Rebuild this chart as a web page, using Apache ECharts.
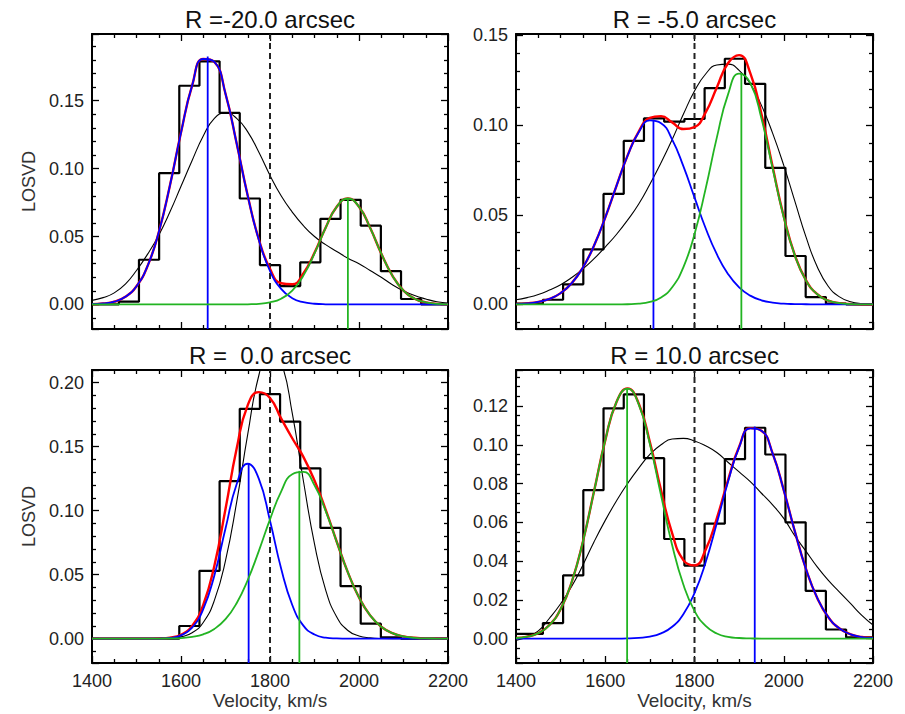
<!DOCTYPE html>
<html>
<head>
<meta charset="utf-8">
<title>LOSVD fits</title>
<script src="https://cdn.jsdelivr.net/npm/echarts@6.0.0/dist/echarts.min.js"></script>
<style>
html,body{margin:0;padding:0;background:#ffffff;}
#chart{width:905px;height:714px;}
</style>
</head>
<body>
<div id="chart"></div>
<script>
// ---------------- data ----------------
const panelTitles = ['R =-20.0 arcsec', 'R = -5.0 arcsec', 'R = \u00a00.0 arcsec', 'R = 10.0 arcsec'];
const xAxisTitle = 'Velocity, km/s';
const yAxisTitle = 'LOSVD';
const xTickLabels = [1400, 1600, 1800, 2000, 2200];

// histogram bins (centres, km/s) and width
const binCenters = [1437.6, 1482.9, 1528.2, 1573.5, 1618.8, 1664.1, 1709.4, 1754.7, 1800.0, 1845.3, 1890.6, 1935.9, 1981.2, 2026.5, 2071.8, 2117.1, 2162.4];
const binWidth = 45.3;

const histR_m20 = [0, 0.0020, 0.0329, 0.0966, 0.1610, 0.1790, 0.1410, 0.0780, 0.0290, 0.0135, 0.0310, 0.0630, 0.0770, 0.0580, 0.0245, 0.0040, 0];
const histR_m5  = [0.0004, 0.0026, 0.0112, 0.0307, 0.0616, 0.0912, 0.1037, 0.1019, 0.1034, 0.1206, 0.1370, 0.1230, 0.0762, 0.0270, 0.0041, 0.0004, 0];
const histR_0   = [0, 0, 0, 0, 0.0099, 0.0530, 0.1230, 0.1795, 0.1910, 0.1695, 0.1330, 0.0865, 0.0410, 0.0117, 0.0010, 0, 0];
const histR_p10 = [0.0024, 0.0080, 0.0326, 0.0766, 0.1188, 0.1260, 0.0931, 0.0514, 0.0377, 0.0593, 0.0926, 0.1088, 0.0950, 0.0600, 0.0246, 0.0047, 0.0006];

// velocity sampling of the fitted curves (km/s)
const velocityGrid = [1400,1425,1450,1475,1500,1525,1550,1575,1600,1625,1650,1675,1700,1725,1750,1775,1800,1825,1850,1875,1900,1925,1950,1975,2000,2025,2050,2075,2100,2125,2150,2175,2200];

// R = -20.0
const redR_m20   = [0.0002,0.0007,0.0020,0.0056,0.0134,0.0284,0.0531,0.0874,0.1265,0.1611,0.1807,0.1785,0.1551,0.1187,0.0800,0.0478,0.0262,0.0156,0.0148,0.0228,0.0380,0.0565,0.0719,0.0780,0.0719,0.0564,0.0375,0.0212,0.0102,0.0042,0.0015,0.0004,0.0001];
const blueR_m20  = [0.0002,0.0007,0.0020,0.0056,0.0134,0.0284,0.0531,0.0874,0.1265,0.1611,0.1807,0.1785,0.1551,0.1187,0.0799,0.0474,0.0247,0.0114,0.0046,0.0016,0.0005,0.0001,0,0,0,0,0,0,0,0,0,0,0];
const greenR_m20 = [0,0,0,0,0,0,0,0,0,0,0,0,0,0,0.0001,0.0004,0.0015,0.0042,0.0102,0.0212,0.0375,0.0564,0.0719,0.0780,0.0719,0.0564,0.0375,0.0212,0.0102,0.0042,0.0015,0.0004,0.0001];
const blackR_m20 = [0.0030,0.0050,0.0085,0.0150,0.0250,0.0370,0.0510,0.0680,0.0870,0.1060,0.1240,0.1370,0.1410,0.1370,0.1270,0.1120,0.0950,0.0800,0.0680,0.0580,0.0500,0.0440,0.0390,0.0340,0.0300,0.0250,0.0200,0.0145,0.0100,0.0065,0.0040,0.0020,0.0010];

// R = -5.0
const redR_m5   = [0.0002,0.0006,0.0014,0.0031,0.0063,0.0119,0.0206,0.0329,0.0485,0.0660,0.0830,0.0964,0.1040,0.1050,0.1015,0.0978,0.0989,0.1071,0.1210,0.1345,0.1390,0.1290,0.1062,0.0769,0.0490,0.0274,0.0134,0.0057,0.0021,0.0007,0.0002,0,0];
const blueR_m5  = [0.0002,0.0006,0.0014,0.0031,0.0063,0.0119,0.0206,0.0329,0.0485,0.0660,0.0829,0.0960,0.1026,0.1011,0.0919,0.0771,0.0597,0.0425,0.0280,0.0170,0.0095,0.0049,0.0023,0.0010,0.0004,0.0002,0.0001,0,0,0,0,0,0];
const greenR_m5 = [0,0,0,0,0,0,0,0,0,0,0.0001,0.0004,0.0014,0.0039,0.0096,0.0207,0.0392,0.0646,0.0930,0.1170,0.1287,0.1235,0.1036,0.0759,0.0486,0.0272,0.0133,0.0057,0.0021,0.0007,0.0002,0,0];
const blackR_m5 = [0.0026,0.0038,0.0055,0.0080,0.0110,0.0150,0.0198,0.0255,0.0320,0.0390,0.0470,0.0560,0.0670,0.0790,0.0920,0.1060,0.1190,0.1285,0.1335,0.1340,0.1305,0.1230,0.1110,0.0955,0.0775,0.0575,0.0375,0.0210,0.0100,0.0042,0.0015,0.0005,0.0002];

// R = 0.0
const redR_0   = [0,0,0,0,0,0,0.0002,0.0008,0.0031,0.0100,0.0264,0.0570,0.1012,0.1483,0.1824,0.1925,0.1880,0.1720,0.1565,0.1420,0.1235,0.1008,0.0757,0.0518,0.0322,0.0182,0.0093,0.0043,0.0018,0.0007,0.0002,0.0001,0];
const blueR_0  = [0,0,0,0,0,0,0.0001,0.0006,0.0026,0.0086,0.0230,0.0494,0.0860,0.1206,0.1366,0.1248,0.0921,0.0548,0.0263,0.0102,0.0032,0.0008,0.0002,0,0,0,0,0,0,0,0,0,0];
const greenR_0 = [0,0,0,0,0,0,0.0001,0.0002,0.0005,0.0014,0.0034,0.0076,0.0152,0.0277,0.0458,0.0686,0.0932,0.1149,0.1284,0.1302,0.1197,0.0998,0.0755,0.0518,0.0322,0.0182,0.0093,0.0043,0.0018,0.0007,0.0002,0.0001,0];
const blackR_0 = [0,0,0,0,0,0,0.0001,0.0004,0.0014,0.0046,0.0126,0.0299,0.0609,0.1064,0.1597,0.2057,0.2276,0.2161,0.1761,0.1233,0.0740,0.0381,0.0169,0.0064,0.0021,0.0006,0.0001,0,0,0,0,0,0];

// R = 10.0
const redR_p10   = [0.0003,0.0010,0.0028,0.0070,0.0152,0.0293,0.0501,0.0761,0.1023,0.1220,0.1291,0.1213,0.1014,0.0766,0.0543,0.0405,0.0378,0.0459,0.0621,0.0817,0.0990,0.1086,0.1073,0.0956,0.0766,0.0552,0.0358,0.0210,0.0110,0.0052,0.0022,0.0008,0.0003];
const blueR_p10  = [0,0,0,0,0,0,0,0,0,0,0.0001,0.0004,0.0010,0.0027,0.0061,0.0126,0.0235,0.0394,0.0595,0.0808,0.0987,0.1085,0.1073,0.0956,0.0766,0.0552,0.0358,0.0210,0.0110,0.0052,0.0022,0.0008,0.0003];
const greenR_p10 = [0.0003,0.0010,0.0028,0.0070,0.0152,0.0293,0.0501,0.0761,0.1023,0.1220,0.1290,0.1209,0.1004,0.0739,0.0482,0.0279,0.0143,0.0065,0.0026,0.0009,0.0003,0.0001,0,0,0,0,0,0,0,0,0,0,0];
const blackR_p10 = [-0.0010,0.0010,0.0040,0.0105,0.0180,0.0270,0.0380,0.0500,0.0610,0.0710,0.0800,0.0880,0.0950,0.1000,0.1030,0.1033,0.1020,0.0995,0.0960,0.0910,0.0860,0.0810,0.0750,0.0690,0.0620,0.0530,0.0450,0.0370,0.0300,0.0240,0.0180,0.0120,0.0070];

// component centres and peak heights (vertical marker lines)
const blueCenters  = [1660, 1708, 1752, 1935];
const bluePeaks    = [0.1826, 0.1030, 0.1367, 0.1094];
const greenCenters = [1975, 1905, 1866, 1649];
const greenPeaks   = [0.0780, 0.1290, 0.1310, 0.1290];
const systemicVelocity = [1800];

// axis ranges
const velocityRange = [1400, 2200];
const yMins = [-0.0181, -0.0137, -0.0190, -0.0126];
const yMaxs = [0.1991, 0.1508, 0.2098, 0.1386];
const yTickSteps = [0.05, 0.05, 0.05, 0.02];

// ---------------- layout & style ----------------
const FONT = '"Liberation Sans", Arial, Helvetica, sans-serif';
const gridBoxes = [
  {left: 92,  top: 34,  width: 356, height: 295},
  {left: 516, top: 34,  width: 357, height: 295},
  {left: 92,  top: 370, width: 356, height: 293},
  {left: 516, top: 370, width: 357, height: 293}
];
const ySplitNumbers = [4, 3, 4, 7];
const yMinorSplits = [5, 5, 5, 4];

const panels = [
  {hist: histR_m20, red: redR_m20, blue: blueR_m20, green: greenR_m20, black: blackR_m20},
  {hist: histR_m5,  red: redR_m5,  blue: blueR_m5,  green: greenR_m5,  black: blackR_m5},
  {hist: histR_0,   red: redR_0,   blue: blueR_0,   green: greenR_0,   black: blackR_0},
  {hist: histR_p10, red: redR_p10, blue: blueR_p10, green: greenR_p10, black: blackR_p10}
];

const COL_BLUE = '#0000ff', COL_GREEN = '#22b422', COL_RED = '#ff0000', COL_BLACK = '#000000';

function histData(vals) {
  const d = [[velocityRange[0], vals[0]]];
  binCenters.forEach((c, i) => d.push([c - binWidth / 2, vals[i]]));
  d.push([velocityRange[1], vals[vals.length - 1]]);
  return d;
}
function curveData(vals) {
  return velocityGrid.map((v, i) => [v, vals[i]]);
}

const tickLine = {color: '#000', width: 1.3};
function xAxisDef(gi, position, showLabels) {
  return {
    type: 'value', gridIndex: gi, position: position,
    min: velocityRange[0], max: velocityRange[1], interval: 200,
    axisLine: {show: true, onZero: false, lineStyle: {color: '#000', width: 2}},
    axisTick: {show: true, inside: true, length: 7, lineStyle: tickLine},
    minorTick: {show: true, splitNumber: 4, length: 4, lineStyle: tickLine},
    splitLine: {show: false}, minorSplitLine: {show: false},
    axisLabel: {show: showLabels, margin: 9, fontSize: 18, fontFamily: FONT, color: '#222',
      formatter: v => (xTickLabels.indexOf(Math.round(v)) >= 0 ? String(Math.round(v)) : '')},
    silent: true
  };
}
function yAxisDef(gi, position, showLabels) {
  const step = yTickSteps[gi];
  return {
    type: 'value', gridIndex: gi, position: position,
    min: yMins[gi], max: yMaxs[gi], splitNumber: ySplitNumbers[gi],
    axisLine: {show: true, onZero: false, lineStyle: {color: '#000', width: 2}},
    axisTick: {show: true, inside: true, length: 7, lineStyle: tickLine},
    minorTick: {show: true, splitNumber: yMinorSplits[gi], length: 4, lineStyle: tickLine},
    splitLine: {show: false}, minorSplitLine: {show: false},
    axisLabel: {show: showLabels, margin: 8, fontSize: 18, fontFamily: FONT, color: '#222',
      showMinLabel: true, showMaxLabel: true,
      formatter: v => {
        const k = Math.round(v / step);
        if (Math.abs(v - k * step) > 1e-6 || k < 0) return '';
        return (k * step).toFixed(2);
      }},
    silent: true
  };
}

const xAxes = [], yAxes = [], series = [];
panels.forEach((p, i) => {
  xAxes.push(xAxisDef(i, 'bottom', i >= 2));
  xAxes.push(xAxisDef(i, 'top', false));
  yAxes.push(yAxisDef(i, 'left', true));
  yAxes.push(yAxisDef(i, 'right', false));
  const xi = 2 * i, yi = 2 * i;
  const base = {type: 'line', xAxisIndex: xi, yAxisIndex: yi, symbol: 'none', silent: true, clip: true, animation: false};
  series.push(Object.assign({}, base, {name: 'hist' + i, step: 'end', data: histData(p.hist), z: 3,
    lineStyle: {color: COL_BLACK, width: 2.2}}));
  series.push(Object.assign({}, base, {name: 'single' + i, smooth: 0.5, data: curveData(p.black), z: 4,
    lineStyle: {color: COL_BLACK, width: 1.1}}));
  series.push(Object.assign({}, base, {name: 'total' + i, smooth: 0.5, data: curveData(p.red), z: 5,
    lineStyle: {color: COL_RED, width: 2.4}}));
  series.push(Object.assign({}, base, {name: 'blue' + i, smooth: 0.5, data: curveData(p.blue), z: 6,
    lineStyle: {color: COL_BLUE, width: 1.8}}));
  series.push(Object.assign({}, base, {name: 'green' + i, smooth: 0.5, data: curveData(p.green), z: 7,
    lineStyle: {color: COL_GREEN, width: 1.8}}));
  series.push(Object.assign({}, base, {name: 'blueV' + i, z: 6,
    data: [[blueCenters[i], yMins[i]], [blueCenters[i], bluePeaks[i]]],
    lineStyle: {color: COL_BLUE, width: 1.8}}));
  series.push(Object.assign({}, base, {name: 'greenV' + i, z: 7,
    data: [[greenCenters[i], yMins[i]], [greenCenters[i], greenPeaks[i]]],
    lineStyle: {color: COL_GREEN, width: 1.8}}));
  series.push(Object.assign({}, base, {name: 'sys' + i, z: 4,
    data: [[systemicVelocity[0], yMins[i]], [systemicVelocity[0], yMaxs[i]]],
    lineStyle: {color: '#222', width: 2, type: [6, 4]}}));
});

const graphics = [];
gridBoxes.forEach((g, i) => {
  const cx = g.left + g.width / 2;
  graphics.push({type: 'text', x: cx, y: g.top - 15, silent: true,
    style: {text: panelTitles[i], fontSize: 24, fontFamily: FONT, fill: '#111', align: 'center', verticalAlign: 'middle'}});
  if (i >= 2) {
    graphics.push({type: 'text', x: cx, y: g.top + g.height + 37, silent: true,
      style: {text: xAxisTitle, fontSize: 19, fontFamily: FONT, fill: '#333', align: 'center', verticalAlign: 'middle'}});
  }
  if (i % 2 === 0) {
    graphics.push({type: 'text', x: 29, y: g.top + g.height / 2, rotation: Math.PI / 2, silent: true,
      style: {text: yAxisTitle, fontSize: 18, fontFamily: FONT, fill: '#333', align: 'center', verticalAlign: 'middle'}});
  }
});

const chart = echarts.init(document.getElementById('chart'), null, {renderer: 'svg', width: 905, height: 714});
chart.setOption({
  backgroundColor: '#ffffff',
  animation: false,
  textStyle: {fontFamily: FONT},
  grid: gridBoxes.map(g => Object.assign({containLabel: false, outerBoundsMode: 'none'}, g)),
  xAxis: xAxes,
  yAxis: yAxes,
  series: series,
  graphic: graphics
});
</script>
</body>
</html>
